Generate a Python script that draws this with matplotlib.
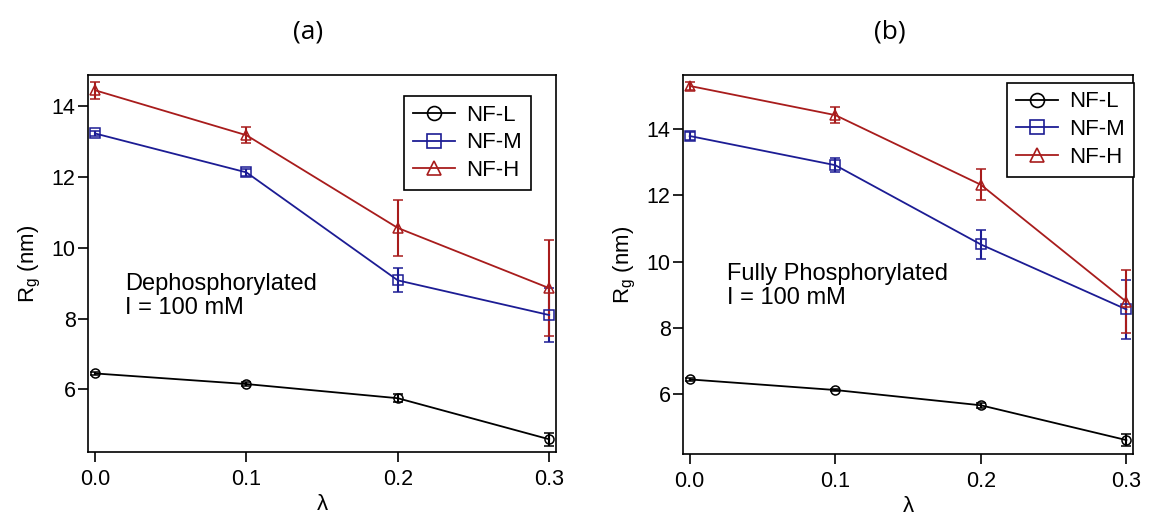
import matplotlib
matplotlib.use("Agg")
import matplotlib.pyplot as plt
from matplotlib.lines import Line2D

plt.rcParams['font.family'] = ['Liberation Sans', 'DejaVu Sans']
plt.rcParams['mathtext.fontset'] = 'custom'
plt.rcParams['mathtext.rm'] = 'Liberation Sans'

# data
lam = [0.0, 0.1, 0.2, 0.3]
labels = ['NF-L', 'NF-M', 'NF-H']

# (a) dephosphorylated
a_L = [6.45, 6.15, 5.75, 4.59]
a_L_err = [0.05, 0.06, 0.11, 0.18]
a_M = [13.23, 12.13, 9.08, 8.10]
a_M_err = [0.08, 0.10, 0.34, 0.75]
a_H = [14.45, 13.18, 10.56, 8.86]
a_H_err = [0.24, 0.23, 0.80, 1.35]

# (b) fully phosphorylated
b_L = [6.45, 6.13, 5.67, 4.62]
b_L_err = [0.05, 0.04, 0.07, 0.17]
b_M = [13.79, 12.91, 10.52, 8.56]
b_M_err = [0.12, 0.22, 0.45, 0.90]
b_H = [15.30, 14.42, 12.32, 8.79]
b_H_err = [0.12, 0.25, 0.47, 0.95]

colors = ['black', '#1c1c94', '#a81c1c']
markers = ['o', 's', '^']

fig = plt.figure(figsize=(11.6, 5.15), dpi=100)
ax_a = fig.add_axes([0.0759, 0.1223, 0.4034, 0.732])
ax_b = fig.add_axes([0.5888, 0.1184, 0.3879, 0.736])


def draw(ax, ys, errs, ylim, note, note_xy, leg_anchor):
    for y, e, c, m in zip(ys, errs, colors, markers):
        ax.errorbar(lam, y, yerr=e, color=c, marker=m, ms=6.5, mfc='none',
                    mec=c, mew=1.1, lw=1.3, elinewidth=1.5, capsize=3.5,
                    capthick=1.3)
    ax.set_xlim(-0.0046, 0.3045)
    ax.set_ylim(*ylim)
    ax.set_xticks([0.0, 0.1, 0.2, 0.3])
    ax.set_xticklabels(['0.0', '0.1', '0.2', '0.3'])
    ax.set_yticks([6, 8, 10, 12, 14])
    ax.tick_params(labelsize=15.5, direction='out', length=7, width=1.2)
    ax.tick_params(axis='x', pad=5)
    ax.tick_params(axis='y', pad=2)
    for s in ax.spines.values():
        s.set_linewidth(1.2)
    ax.set_xlabel('λ', fontsize=16, labelpad=3)
    ax.set_ylabel(r'R$_\mathregular{g}$ (nm)', fontsize=16, labelpad=6)
    ax.text(note_xy[0], note_xy[1], note, transform=ax.transAxes,
            fontsize=17, va='top', ha='left', linespacing=1.15)
    handles = [Line2D([], [], color=c, marker=m, ms=10, mfc='none', mec=c,
                      mew=1.2, lw=1.3)
               for c, m in zip(colors, markers)]
    leg = ax.legend(handles, labels, loc='upper left',
                    bbox_to_anchor=leg_anchor, fontsize=16,
                    frameon=True, fancybox=False, edgecolor='black',
                    handlelength=1.9, borderpad=0.4, labelspacing=0.3,
                    handletextpad=0.5, borderaxespad=0, framealpha=1)
    leg.get_frame().set_linewidth(1.2)


draw(ax_a, [a_L, a_M, a_H], [a_L_err, a_M_err, a_H_err], (4.23, 14.88),
     'Dephosphorylated\nI = 100 mM', (0.079, 0.475), (0.675, 0.945))
draw(ax_b, [b_L, b_M, b_H], [b_L_err, b_M_err, b_H_err], (4.2, 15.63),
     'Fully Phosphorylated\nI = 100 mM', (0.098, 0.505), (0.72, 0.98))

fig.text(0.2655, 0.938, '(a)', fontsize=19, ha='center', va='center',
         family=['Open Sans', 'DejaVu Sans'])
fig.text(0.767, 0.938, '(b)', fontsize=19, ha='center', va='center',
         family=['Open Sans', 'DejaVu Sans'])

fig.savefig('out.png', dpi=100)
